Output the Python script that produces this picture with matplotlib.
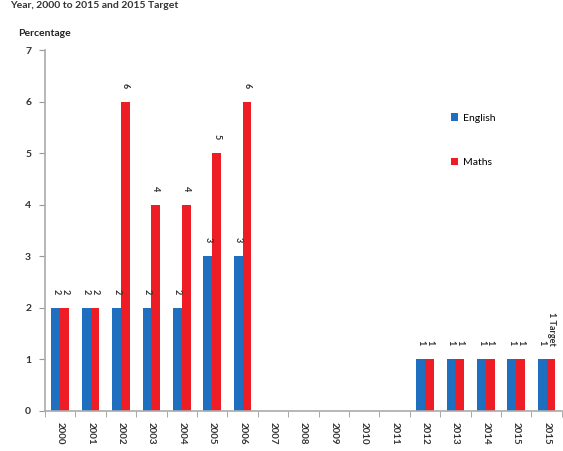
import matplotlib
matplotlib.use("Agg")
import matplotlib.pyplot as plt
import numpy as np

plt.rcParams['font.family'] = ['Lato', 'DejaVu Sans']

categories = ["2000", "2001", "2002", "2003", "2004", "2005", "2006", "2007", "2008",
              "2009", "2010", "2011", "2012", "2013", "2014", "2015", "2015"]
english = [2, 2, 2, 2, 2, 3, 3, 0, 0, 0, 0, 0, 1, 1, 1, 1, 1]
maths = [2, 2, 6, 4, 4, 5, 6, 0, 0, 0, 0, 0, 1, 1, 1, 1, 1]
english_labels = ["2", "2", "2", "2", "2", "3", "3", "", "", "", "", "", "1", "1", "1", "1", "1"]
maths_labels = ["2", "2", "6", "4", "4", "5", "6", "", "", "", "", "", "1", "1", "1", "1", "1 Target"]
yticks = [0, 1, 2, 3, 4, 5, 6, 7]

blue = "#1f6fc1"
red = "#ee1c25"

fig = plt.figure(figsize=(5.63, 4.51), dpi=100)
ax = fig.add_axes([0.080, 0.0887, 0.918, 0.800])

x = np.arange(len(categories))
w = 0.29
ax.bar(x - w / 2, english, width=w, color=blue, label="English")
ax.bar(x + w / 2, maths, width=w, color=red, label="Maths")

for i in range(len(categories)):
    if english_labels[i]:
        ax.annotate(english_labels[i], (x[i] - w / 2, english[i]), xytext=(0, 10),
                    textcoords="offset points", rotation=270, ha="center", va="bottom",
                    fontsize=6.5, fontweight="bold", color="#333333")
    if maths_labels[i]:
        ax.annotate(maths_labels[i], (x[i] + w / 2, maths[i]), xytext=(0, 10),
                    textcoords="offset points", rotation=270, ha="center", va="bottom",
                    fontsize=6.5, fontweight="bold", color="#333333", linespacing=0.9)

ax.set_xlim(-0.5, len(categories) - 0.5)
ax.set_ylim(0, 7)
ax.set_yticks(yticks)
ax.set_yticklabels([str(v) for v in yticks], fontsize=7.5, fontweight="bold", color="#333333")
ax.set_xticks(x)
ax.set_xticklabels(categories, rotation=270, fontsize=7, fontweight="bold", color="#333333")
ax.tick_params(axis="x", length=0, pad=8)
ax.set_xticks(np.arange(-0.5, len(categories), 1), minor=True)
ax.tick_params(axis="x", which="minor", length=4, color="#999999", direction="out")
ax.tick_params(axis="y", length=4, color="#999999", direction="out", pad=6)

for s in ["top", "right"]:
    ax.spines[s].set_visible(False)
for s in ["left", "bottom"]:
    ax.spines[s].set_color("#aaaaaa")
    ax.spines[s].set_linewidth(1.2)

leg = ax.legend(loc="upper left", bbox_to_anchor=(0.785, 0.825), frameon=False,
                fontsize=7.5, handlelength=0.7, handleheight=0.7, handletextpad=0.5,
                labelspacing=3.4, borderpad=0, borderaxespad=0)

fig.text(18 / 563, 1 - 33 / 451, "Percentage", fontsize=7.5, fontweight="bold",
         color="#222222", va="center", ha="left")
fig.text(10 / 563, 1 - 1 / 451, "Year, 2000 to 2015 and 2015 Target", fontsize=7.5,
         fontweight="bold", color="#333333", va="top", ha="left")

fig.savefig("out.png", dpi=100)
